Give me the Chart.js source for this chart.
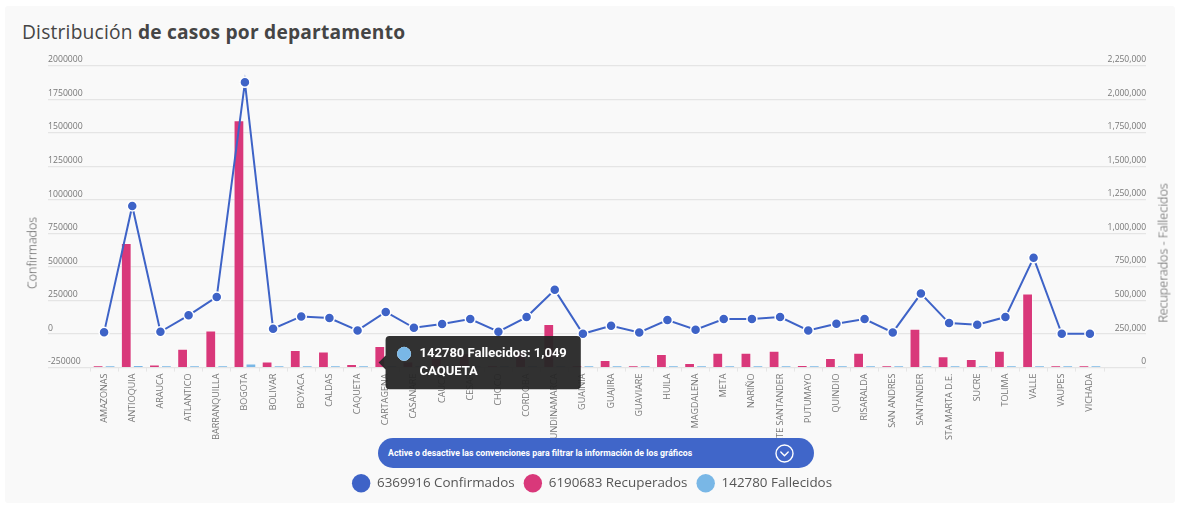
<!DOCTYPE html>
<html><head><meta charset="utf-8">
<script src="https://cdn.jsdelivr.net/npm/chart.js@4.4.1/dist/chart.umd.min.js"></script>
<style>
html,body{margin:0;padding:0;background:#fff;}
#wrap{position:relative;width:1180px;height:506px;overflow:hidden;}
#card{position:absolute;left:5px;top:6px;width:1170px;height:497px;background:#f9f9f9;border-radius:3px;}
#title{position:absolute;left:22px;top:19px;font-family:'Open Sans';font-size:19.2px;letter-spacing:0.2px;color:#454545;white-space:nowrap;line-height:26px;}
#title b{font-weight:700;}
#cv{position:absolute;left:0;top:0;}
.axt{position:absolute;font-family:'Open Sans';font-weight:300;font-size:12.5px;color:#505050;white-space:nowrap;transform:translate(-50%,-50%) rotate(-90deg);}
#banner{position:absolute;left:378px;top:438px;width:436px;height:30px;border-radius:15px;background:#4066c9;color:#fff;font-family:Roboto;font-weight:700;font-size:8.75px;line-height:30px;padding-left:10px;box-sizing:border-box;}
#banner svg{position:absolute;left:397px;top:6px;}
</style></head>
<body>
<div id="wrap">
  <div id="card"></div>
  <div id="title">Distribución <b>de casos por departamento</b></div>
  <canvas id="cv" width="1180" height="506"></canvas>
  <div class="axt" style="left:31.5px;top:253px;">Confirmados</div>
  <div class="axt" style="left:1163px;top:253px;">Recuperados - Fallecidos</div>
  <div id="banner">Active o desactive las convenciones para filtrar la información de los gráficos
    <svg width="19" height="19" viewBox="0 0 19 19"><circle cx="9.5" cy="9.5" r="8.5" fill="none" stroke="#fff" stroke-width="1.4"/><polyline points="5.8,8 9.5,11.7 13.2,8" fill="none" stroke="#fff" stroke-width="1.4" stroke-linecap="round" stroke-linejoin="round"/></svg>
  </div>
</div>
<script>
const categories = ["AMAZONAS","ANTIOQUIA","ARAUCA","ATLANTICO","BARRANQUILLA","BOGOTA","BOLIVAR","BOYACA","CALDAS","CAQUETA","CARTAGENA","CASANARE","CAUCA","CESAR","CHOCO","CORDOBA","CUNDINAMARCA","GUAINIA","GUAJIRA","GUAVIARE","HUILA","MAGDALENA","META","NARIÑO","NORTE SANTANDER","PUTUMAYO","QUINDIO","RISARALDA","SAN ANDRES","SANTANDER","STA MARTA D.E.","SUCRE","TOLIMA","VALLE","VAUPES","VICHADA"];
const confirmados = [13000,956000,17500,140000,277000,1878000,40000,132000,120000,27500,165000,47000,75000,112000,17500,127000,330000,2500,62000,12500,105000,32500,112000,112000,127000,27500,77000,112000,12500,302000,82000,70000,127000,569000,2500,2500];
const recuperados = [7500,929000,22500,140000,277000,1845000,45000,132000,120000,27500,162000,45000,72000,108000,16000,122000,325000,5000,57000,7500,102000,35000,110000,110000,125000,20000,72000,110000,15000,290000,85000,65000,125000,552000,7500,7500];
const fallecidos = [400,19000,550,4000,6500,30000,1000,3500,3000,1049,3000,1200,2300,3000,500,4100,7500,100,2200,200,3500,1400,3000,3100,4100,800,2200,2900,200,9500,2400,2200,4100,17000,50,100];
const totals = [6369916, 6190683, 142780];
const seriesNames = ["Confirmados","Recuperados","Fallecidos"];
const colors = ["#3e63c7","#d9387a","#79b7e6"];
const leftTicks = {min:-250000, max:2000000, step:250000};
const rightTicks = {min:0, max:2250000, step:250000};
const tooltipCategory = "CAQUETA";

Chart.Tooltip.positioners.side = function(items){
  if(!items.length) return false;
  const el = items[0].element;
  return {x: el.x + 13, y: el.y - 3, xAlign:'left', yAlign:'center'};
};

const legendShift = {
  id:'legendShift',
  afterLayout(chart){ const l = chart.legend; if(l){ l.left -= 5; l.right -= 5; } }
};

const font = 'Open Sans';
const chart = new Chart(document.getElementById('cv'), {
  type:'bar',
  data:{
    labels: categories,
    datasets:[
      {type:'line', label: totals[0]+' '+seriesNames[0], data: confirmados, yAxisID:'y', borderColor:colors[0], backgroundColor:colors[0], borderWidth:2, tension:0, pointRadius:5, pointBackgroundColor:colors[0], pointBorderColor:'#fff', pointBorderWidth:1.5, order:0},
      {label: totals[1]+' '+seriesNames[1], data: recuperados, yAxisID:'y1', backgroundColor:colors[1], borderColor:'rgba(255,255,255,0.35)', borderWidth:1, minBarLength:2, categoryPercentage:0.85, barPercentage:0.9, order:1},
      {label: totals[2]+' '+seriesNames[2], data: fallecidos, yAxisID:'y1', backgroundColor:colors[2], borderColor:'rgba(255,255,255,0.35)', borderWidth:1, minBarLength:2, categoryPercentage:0.85, barPercentage:0.9, order:1}
    ]
  },
  plugins:[legendShift],
  options:{
    responsive:false, animation:false, events:[], locale:'en-US',
    layout:{padding:{left:48, right:34, top:66, bottom:6}},
    plugins:{
      title:{display:false},
      legend:{position:'bottom', labels:{usePointStyle:true, pointStyle:'circle', pointStyleWidth:18.4, boxWidth:13, boxHeight:13, padding:9, color:'#555', font:{family:font, size:13.4},
        generateLabels: c => c.data.datasets.map((d,i)=>({text:d.label, fillStyle:colors[i], strokeStyle:colors[i], lineWidth:0, pointStyle:'circle', hidden:!c.isDatasetVisible(i), datasetIndex:i, fontColor:'#555'}))}},
      tooltip:{
        position:'side', xAlign:'left', yAlign:'center',
        backgroundColor:'rgba(38,38,38,0.95)', cornerRadius:4, caretSize:7, caretPadding:2,
        padding:{top:10, bottom:10, left:12, right:14},
        usePointStyle:true, boxWidth:13, boxHeight:13, boxPadding:7,
        bodyFont:{family:'Roboto', size:13, weight:'bold'}, bodyColor:'#fff',
        callbacks:{
          title: () => '',
          afterLabel: ctx => ctx.label,
          labelColor: ctx => ({borderColor: colors[ctx.datasetIndex], backgroundColor: colors[ctx.datasetIndex]})
        }
      }
    },
    scales:{
      x:{offset:true, grid:{display:true, drawOnChartArea:false, tickLength:4, color:'#e6e6e6'}, border:{display:false},
         ticks:{autoSkip:false, maxRotation:90, minRotation:90, padding:2, color:'#777', font:{family:font, size:9}},
         afterFit: s => { s.height = 100; }},
      y:{position:'left', min:leftTicks.min, max:leftTicks.max,
         ticks:{stepSize:leftTicks.step, crossAlign:'far', labelOffset:-6, color:'#777', font:{family:font, size:8.7}, callback: v => String(v)},
         grid:{color:'#e5e5e5', lineWidth:1.2, tickLength:42}, border:{display:false},
         afterFit: s => { s.width = 42; }},
      y1:{position:'right', min:rightTicks.min, max:rightTicks.max,
         ticks:{stepSize:rightTicks.step, crossAlign:'far', labelOffset:-6, color:'#777', font:{family:font, size:8.5}},
         grid:{drawOnChartArea:false, color:'#e5e5e5', lineWidth:1.2, tickLength:42}, border:{display:false},
         afterFit: s => { s.width = 42; }}
    }
  }
});
chart.tooltip.setActiveElements([{datasetIndex:2, index: categories.indexOf(tooltipCategory)}], {x:0, y:0});
chart.update();
</script>
</body></html>
